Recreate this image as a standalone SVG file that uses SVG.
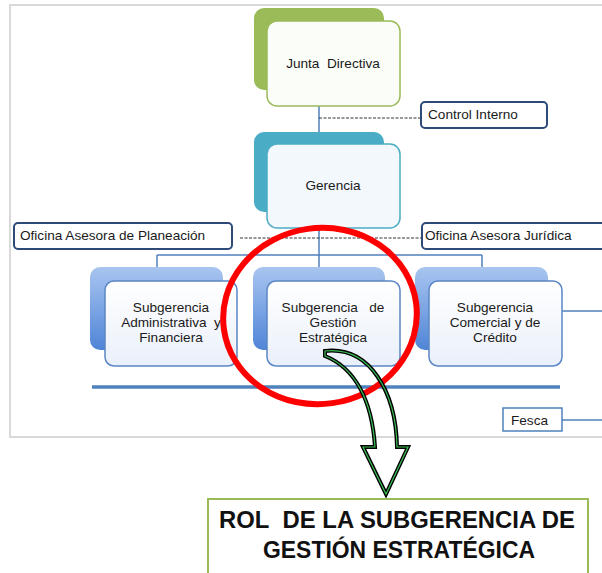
<svg xmlns="http://www.w3.org/2000/svg" width="602" height="573" viewBox="0 0 602 573">
<defs>
<linearGradient id="gBlue" x1="0" y1="0" x2="0" y2="1">
<stop offset="0" stop-color="#a9c5f0"/>
<stop offset="1" stop-color="#4f85d6"/>
</linearGradient>
<linearGradient id="gFront" x1="0" y1="0" x2="0" y2="1">
<stop offset="0" stop-color="#ffffff"/>
<stop offset="1" stop-color="#eaf0fa"/>
</linearGradient>
</defs>
<style>
text{font-family:"Liberation Sans",Arial,sans-serif;fill:#1a1a1a;font-size:13.6px}
.c{text-anchor:middle}
.conn{stroke:#4f81bd;stroke-width:1.5;fill:none}
.dash{stroke:#333;stroke-width:1;stroke-dasharray:3,1.5;fill:none}
.office{fill:#fff;stroke:#2d4a78;stroke-width:2}
.subBack{fill:url(#gBlue)}
.subFront{fill:url(#gFront);stroke:#5b86c5;stroke-width:1.5}
.title{font-weight:bold;font-size:23px;fill:#111}
</style>
<rect x="10" y="5" width="600" height="432" fill="#fff" stroke="#d9d9d9" stroke-width="2"/>
<g id="connectors">
<line class="conn" x1="319" y1="106" x2="319" y2="144"/>
<line class="conn" x1="319" y1="228" x2="319" y2="281"/>
<line class="conn" x1="157" y1="255" x2="482" y2="255"/>
<line class="conn" x1="157" y1="255" x2="157" y2="267"/>
<line class="conn" x1="482" y1="255" x2="482" y2="267"/>
<line class="conn" x1="562" y1="311" x2="602" y2="311"/>
<line class="conn" x1="562" y1="420" x2="602" y2="420"/>
<line class="dash" x1="319" y1="118" x2="421" y2="118"/>
<line class="dash" x1="240" y1="238" x2="421" y2="238"/>
<line x1="92" y1="387" x2="560" y2="387" stroke="#4f81bd" stroke-width="3.5"/>
</g>
<g id="junta">
<rect x="254" y="8" width="130" height="82" rx="10" fill="#9bbb59"/>
<rect x="267" y="21" width="133" height="85" rx="10" fill="#fbfdf8" stroke="#9bbb59" stroke-width="1.5"/>
<text class="c" x="333" y="68">Junta&#160; Directiva</text>
</g>
<g id="control">
<rect class="office" x="421" y="102" width="126" height="26" rx="4"/>
<text x="428" y="119">Control Interno</text>
</g>
<g id="gerencia">
<rect x="254" y="132" width="130" height="80" rx="10" fill="#4bacc6"/>
<rect x="267" y="144" width="133" height="84" rx="10" fill="#f3f8fc" stroke="#4bacc6" stroke-width="1.5"/>
<text class="c" x="333" y="190">Gerencia</text>
</g>
<g id="planeacion">
<rect class="office" x="14" y="223" width="218" height="26" rx="4"/>
<text x="20" y="240">Oficina Asesora de Planeación</text>
</g>
<g id="juridica">
<rect class="office" x="422" y="223" width="190" height="26" rx="4"/>
<text x="425" y="240">Oficina Asesora Jurídica</text>
</g>
<g id="sub-admin">
<rect class="subBack" x="90" y="267" width="133" height="83" rx="10"/>
<rect class="subFront" x="105" y="281" width="132" height="85" rx="9"/>
<text class="c" x="171" y="312">Subgerencia</text>
<text class="c" x="171" y="327">Administrativa&#160; y</text>
<text class="c" x="171" y="342">Financiera</text>
</g>
<g id="sub-gestion">
<rect class="subBack" x="253" y="267" width="132" height="83" rx="10"/>
<rect class="subFront" x="267" y="281" width="133" height="85" rx="9"/>
<text class="c" x="333" y="312">Subgerencia&#160;&#160; de</text>
<text class="c" x="333" y="327">Gestión</text>
<text class="c" x="333" y="342">Estratégica</text>
</g>
<g id="sub-comercial">
<rect class="subBack" x="415" y="267" width="133" height="83" rx="10"/>
<rect class="subFront" x="429" y="281" width="133" height="85" rx="9"/>
<text class="c" x="495" y="312">Subgerencia</text>
<text class="c" x="495" y="327">Comercial y de</text>
<text class="c" x="495" y="342">Crédito</text>
</g>
<g id="fesca">
<rect x="503" y="408" width="59" height="23" fill="#fff" stroke="#4f81bd" stroke-width="1.5"/>
<text x="511" y="425">Fesca</text>
</g>
<g id="highlight">
<ellipse cx="320" cy="316" rx="97" ry="88" fill="none" stroke="#ff0000" stroke-width="6" transform="rotate(-8 320 316)"/>
</g>
<g id="arrow">
<path d="M325 351 C370 346 396 392 397 447 L408 447 L386 494 L363 447 L375 447 C372 400 355 368 325 356 Z" fill="none" stroke="#000" stroke-width="4" stroke-linejoin="miter"/>
<path d="M325 351 C370 346 396 392 397 447 L408 447 L386 494 L363 447 L375 447 C372 400 355 368 325 356 Z" fill="none" stroke="#3dbd55" stroke-width="1.2"/>
</g>
<g id="rol">
<rect x="208" y="499" width="380" height="90" fill="#fff" stroke="#9bbb59" stroke-width="2"/>
<text class="c title" x="397" y="528" textLength="356" lengthAdjust="spacingAndGlyphs">ROL&#160; DE LA SUBGERENCIA DE</text>
<text class="c title" x="399" y="558" textLength="272" lengthAdjust="spacingAndGlyphs">GESTIÓN ESTRATÉGICA</text>
</g>
</svg>
